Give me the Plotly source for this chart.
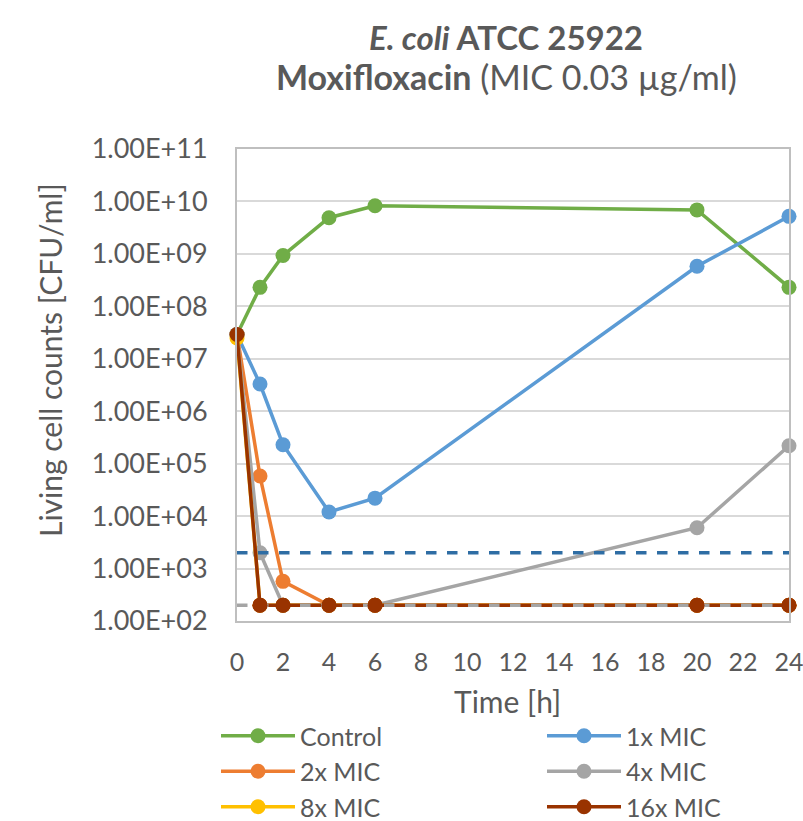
import plotly.graph_objects as go

time_h = [0, 1, 2, 4, 6, 20, 24]
control = [2.9e7, 2.3e8, 9.3e8, 4.9e9, 8.3e9, 6.9e9, 2.3e8]
mic1x = [2.9e7, 3.3e6, 2.3e5, 1.2e4, 2.2e4, 5.8e8, 5.2e9]
mic2x = [2.9e7, 5.8e4, 5.7e2, 2e2, 2e2, 2e2, 2e2]
mic4x = [2.9e7, 2.0e3, 2e2, 2e2, 2e2, 6.0e3, 2.2e5]
mic8x = [2.5e7, 2e2, 2e2, 2e2, 2e2, 2e2, 2e2]
mic16x = [2.9e7, 2e2, 2e2, 2e2, 2e2, 2e2, 2e2]

lod_x = [0, 24]
lod_high = [2e3, 2e3]
lod_low = [2e2, 2e2]

series_names = ["Control", "1x MIC", "2x MIC", "4x MIC", "8x MIC", "16x MIC"]
series_values = [control, mic1x, mic2x, mic4x, mic8x, mic16x]
colors = ["#70AD47", "#5B9BD5", "#ED7D31", "#A5A5A5", "#FFC000", "#993300"]
legend_column = ["legend", "legend2", "legend", "legend2", "legend", "legend2"]

y_tickvals = [1e2, 1e3, 1e4, 1e5, 1e6, 1e7, 1e8, 1e9, 1e10, 1e11]
y_ticktext = ["1.00E+02", "1.00E+03", "1.00E+04", "1.00E+05", "1.00E+06",
              "1.00E+07", "1.00E+08", "1.00E+09", "1.00E+10", "1.00E+11"]
x_tickvals = list(range(0, 25, 2))

FONT = "Lato"
TXT = "#595959"

W, H = 803, 821
L, T, R, B = 237, 149, 14, 200
PW, PH = W - L - R, H - T - B


def px_x(x):
    return (x - L) / PW


def px_y(y):
    return (H - B - y) / PH


fig = go.Figure()

for name, vals, col, lg in zip(series_names, series_values, colors, legend_column):
    fig.add_trace(go.Scatter(
        x=time_h, y=vals, name=name, mode="lines+markers",
        line=dict(color=col, width=3.5),
        marker=dict(color=col, size=15),
        cliponaxis=False, legend=lg,
    ))

fig.add_trace(go.Scatter(
    x=lod_x, y=lod_high, mode="lines", showlegend=False, hoverinfo="skip",
    line=dict(color="#2E6DA4", width=3.5, dash="dash"), cliponaxis=False,
))
fig.add_trace(go.Scatter(
    x=lod_x, y=lod_low, mode="lines", showlegend=False, hoverinfo="skip",
    line=dict(color="#A5A5A5", width=3.5, dash="dash"), cliponaxis=False,
))
# 16x markers redrawn above the reference lines
fig.add_trace(go.Scatter(
    x=time_h[1:], y=mic16x[1:], mode="markers", showlegend=False, hoverinfo="skip",
    marker=dict(color=colors[5], size=15), cliponaxis=False,
))

legend_common = dict(
    orientation="v", xanchor="left",
    yref="container", y=1 - 713 / H, yanchor="top",
    itemwidth=74, tracegroupgap=0,
    font=dict(family=FONT, size=25, color=TXT),
    bgcolor="rgba(0,0,0,0)",
)

fig.update_layout(
    width=W, height=H,
    margin=dict(l=L, r=R, t=T, b=B),
    paper_bgcolor="white", plot_bgcolor="white",
    font=dict(family=FONT, color=TXT, size=26),
    title=dict(
        text="<b><i>E. coli</i> ATCC 25922</b>",
        x=506 / W, xref="container", xanchor="center",
        y=1 - 38.5 / H, yref="container", yanchor="middle",
        font=dict(family=FONT, size=33, color=TXT),
    ),
    showlegend=True,
    legend=dict(x=px_x(216), **legend_common),
    legend2=dict(x=px_x(542), **legend_common),
    annotations=[
        dict(text="<b>Moxifloxacin</b> (MIC 0.03 µg/ml)", xref="paper", yref="paper",
             x=px_x(506), y=px_y(77), showarrow=False,
             xanchor="center", yanchor="middle",
             font=dict(family=FONT, size=34, color=TXT)),
        dict(text="Living cell counts [CFU/ml]", xref="paper", yref="paper",
             x=px_x(50), y=px_y(360), textangle=-90,
             showarrow=False, xanchor="center", yanchor="middle",
             font=dict(family=FONT, size=30, color=TXT)),
        dict(text="Time [h]", xref="paper", yref="paper",
             x=px_x(507), y=px_y(701),
             showarrow=False, xanchor="center", yanchor="middle",
             font=dict(family=FONT, size=30, color=TXT)),
    ],
)

fig.update_xaxes(
    range=[0, 24], tickvals=x_tickvals, ticks="",
    showgrid=False, zeroline=False,
    showline=True, linecolor="#BFBFBF", linewidth=2, mirror=True,
    tickfont=dict(family=FONT, size=25, color=TXT),
    ticklabelstandoff=18, ticklabeloverflow="allow", automargin=False,
)
fig.update_yaxes(
    type="log", range=[2, 11], tickvals=y_tickvals, ticktext=y_ticktext,
    ticks="", showgrid=True, gridcolor="#D9D9D9", gridwidth=1.5,
    zeroline=False, showline=True, linecolor="#BFBFBF", linewidth=2, mirror=True,
    tickfont=dict(family=FONT, size=27, color=TXT),
    ticklabelstandoff=22, automargin=False,
)

fig.write_html("out.html",
               config={"displayModeBar": False},
               post_script="document.body.style.margin='0';document.body.style.overflow='hidden';")
